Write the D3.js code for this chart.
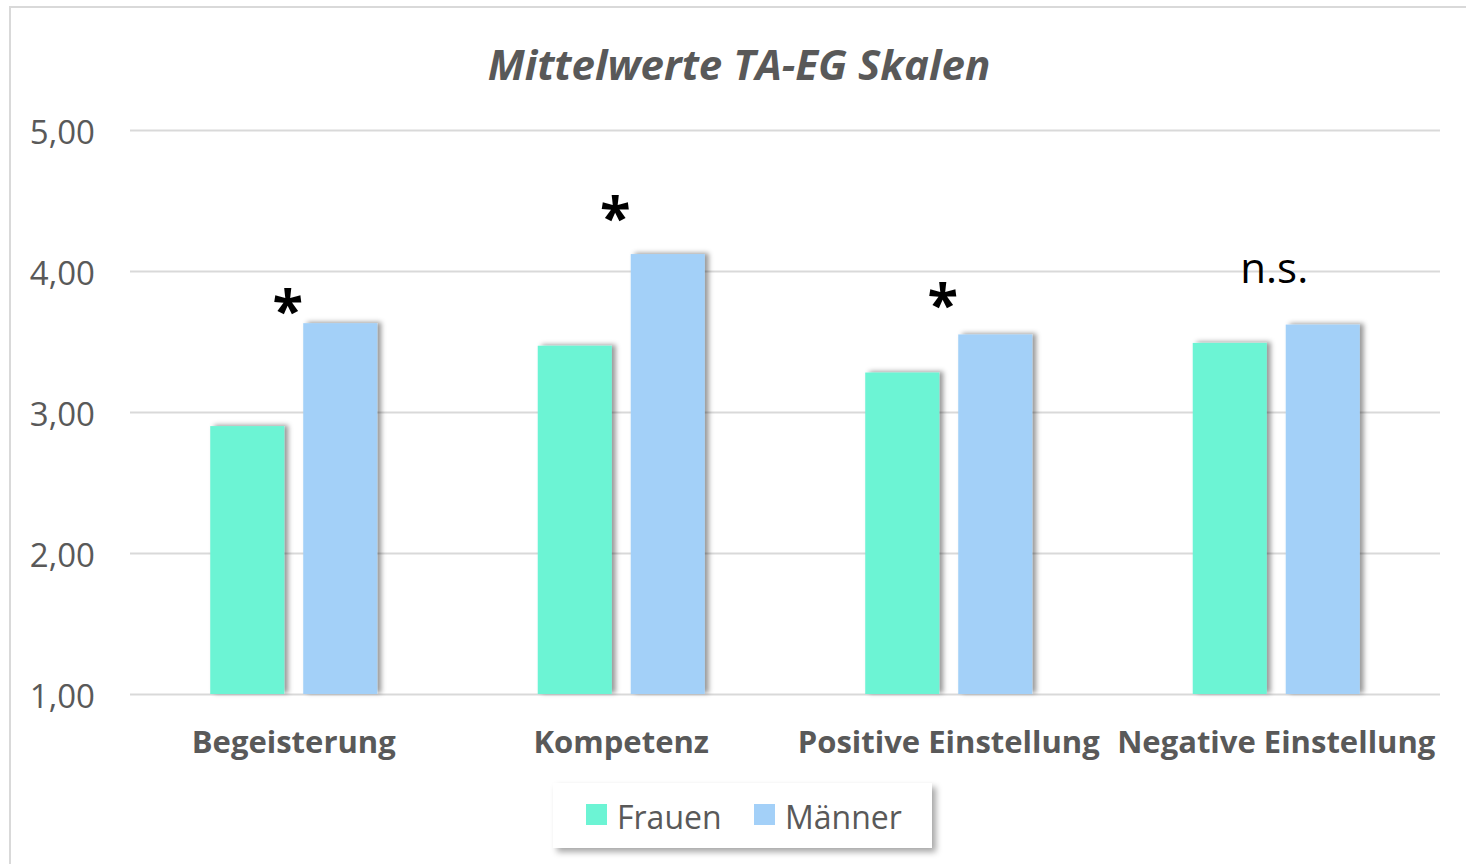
<!DOCTYPE html>
<html>
<head>
<meta charset="utf-8">
<script src="https://cdn.jsdelivr.net/npm/d3@7/dist/d3.min.js"></script>
<style>
  html, body { margin: 0; padding: 0; background: #fff; }
  svg { display: block; }
</style>
</head>
<body>
<div id="chart"></div>
<script>
// Mittelwerte TA-EG Skalen, Frauen vs. Männer

const categories = ["Begeisterung", "Kompetenz", "Positive Einstellung", "Negative Einstellung"];
const series     = ["Frauen", "Männer"];
const frauen     = [2.90, 3.47, 3.28, 3.49];
const maenner    = [3.63, 4.12, 3.55, 3.62];
const yTicks     = [1, 2, 3, 4, 5];
// significance marks above each group (level in axis units)
const marks      = ["*", "*", "*", "n.s."];
const markLevel  = [3.79, 4.45, 3.83, 4.02];

const colors = { "Frauen": "#6cf4d4", "Männer": "#a3d0f8" };
const textGrey = "#595959";
const gridGrey = "#d9d9d9";
const font = "'Open Sans', 'Noto Sans', sans-serif";

const width  = 1466;
const height = 864;
const margin = { top: 130, right: 26, bottom: 170, left: 130 };

const svg = d3.select("#chart")
    .append("svg")
    .attr("width", width)
    .attr("height", height);

const defs = svg.append("defs");

defs.append("filter")
    .attr("id", "barShadow")
    .attr("x", "-20%").attr("y", "-20%")
    .attr("width", "150%").attr("height", "140%")
    .append("feDropShadow")
    .attr("dx", 4).attr("dy", -1)
    .attr("stdDeviation", 2.5)
    .attr("flood-color", "#000")
    .attr("flood-opacity", 0.4);

defs.append("filter")
    .attr("id", "legendShadow")
    .attr("x", "-10%").attr("y", "-30%")
    .attr("width", "130%").attr("height", "170%")
    .append("feDropShadow")
    .attr("dx", 4).attr("dy", 4)
    .attr("stdDeviation", 3)
    .attr("flood-color", "#000")
    .attr("flood-opacity", 0.35);

// chart frame
svg.append("rect")
    .attr("x", 10).attr("y", 7)
    .attr("width", width + 20).attr("height", height + 20)
    .attr("fill", "#fff")
    .attr("stroke", gridGrey)
    .attr("stroke-width", 2);

/////////////
/// Scales ///
/////////////

const x0 = d3.scaleBand()
    .domain(categories)
    .range([margin.left, width - margin.right])
    .paddingInner(0.49)
    .paddingOuter(0.245);

const x1 = d3.scaleBand()
    .domain(series)
    .range([0, x0.bandwidth()])
    .paddingInner(0.204);

const y = d3.scaleLinear()
    .domain([1, 5])
    .range([height - margin.bottom, margin.top]);

////////////
/// Grid ///
////////////

const yAxis = svg.append("g")
    .attr("transform", "translate(" + margin.left + ",0)")
    .call(d3.axisLeft(y)
        .tickValues(yTicks)
        .tickSize(-(width - margin.left - margin.right))
        .tickPadding(35)
        .tickFormat(d => d3.format(".2f")(d).replace(".", ",")));

yAxis.select(".domain").remove();
yAxis.selectAll(".tick line")
    .attr("stroke", gridGrey)
    .attr("stroke-width", 2);
yAxis.selectAll(".tick text")
    .attr("fill", textGrey)
    .attr("dy", "0.42em")
    .style("font-family", font)
    .style("font-size", "33px");

////////////
/// Bars ///
////////////

const rows = categories.map((c, i) => ({ cat: c, values: [
    { key: "Frauen", value: frauen[i] },
    { key: "Männer", value: maenner[i] }
]}));

const groups = svg.append("g")
    .selectAll("g")
    .data(rows)
    .enter()
    .append("g")
    .attr("transform", d => "translate(" + x0(d.cat) + ",0)");

groups.selectAll("rect")
    .data(d => d.values)
    .enter()
    .append("rect")
    .attr("x", d => x1(d.key))
    .attr("y", d => y(d.value))
    .attr("width", x1.bandwidth())
    .attr("height", d => y(1) - y(d.value))
    .attr("fill", d => colors[d.key])
    .attr("filter", "url(#barShadow)");

//////////////
/// Labels ///
//////////////

svg.append("g")
    .selectAll("text")
    .data(categories)
    .enter()
    .append("text")
    .attr("x", d => x0(d) + x0.bandwidth() / 2)
    .attr("y", 753)
    .attr("text-anchor", "middle")
    .attr("fill", textGrey)
    .style("font-family", font)
    .style("font-weight", "bold")
    .style("font-size", "31px")
    .text(d => d);

svg.append("g")
    .selectAll("text")
    .data(categories)
    .enter()
    .append("text")
    .attr("x", (d, i) => x0(d) + x0.bandwidth() / 2 + (marks[i] === "*" ? -6 : -2))
    .attr("y", (d, i) => y(markLevel[i]))
    .attr("dy", (d, i) => marks[i] === "*" ? "0.52em" : "0.35em")
    .attr("text-anchor", "middle")
    .attr("fill", "#000")
    .style("font-family", font)
    .style("font-weight", (d, i) => marks[i] === "*" ? "bold" : "normal")
    .style("font-size", (d, i) => marks[i] === "*" ? "56px" : "42px")
    .text((d, i) => marks[i]);

svg.append("text")
    .attr("x", 739)
    .attr("y", 80)
    .attr("text-anchor", "middle")
    .attr("fill", textGrey)
    .style("font-family", font)
    .style("font-weight", "bold")
    .style("font-style", "italic")
    .style("font-size", "42px")
    .text("Mittelwerte TA-EG Skalen");

//////////////
/// Legend ///
//////////////

const legend = svg.append("g");

legend.append("rect")
    .attr("x", 553).attr("y", 783)
    .attr("width", 379).attr("height", 65)
    .attr("fill", "#fff")
    .attr("filter", "url(#legendShadow)");

const legendX = d3.scaleOrdinal().domain(series).range([586, 754]);

const items = legend.selectAll("g.item")
    .data(series)
    .enter()
    .append("g")
    .attr("class", "item")
    .attr("transform", d => "translate(" + legendX(d) + ",0)");

items.append("rect")
    .attr("x", 0).attr("y", 804)
    .attr("width", 21).attr("height", 21)
    .attr("fill", d => colors[d]);

items.append("text")
    .attr("x", 31)
    .attr("y", 829)
    .attr("fill", textGrey)
    .style("font-family", font)
    .style("font-size", "32px")
    .text(d => d);
</script>
</body>
</html>
